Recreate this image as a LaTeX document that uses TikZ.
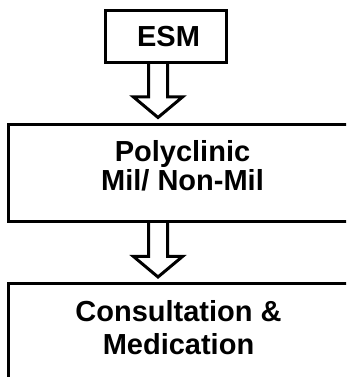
\documentclass[tikz,border=0pt]{standalone}
\usepackage{fontspec}
\setmainfont{Liberation Sans}
\usetikzlibrary{calc}
\begin{document}
\begin{tikzpicture}[x=1pt,y=1pt,
  boxnode/.style={draw=black, line width=3pt, inner sep=0pt},
  txt/.style={font=\bfseries\fontsize{29}{29}\selectfont, align=center, inner sep=0pt},
  blockarrow/.style={draw=black, line width=3pt, line join=miter}]
\useasboundingbox (0,0) rectangle (346,377);
\clip (0,0) rectangle (346,377);
% boxes
\node[boxnode, minimum width=121pt, minimum height=52pt] (esm) at (166,340.5) {};
\node[txt] (esmt) at (168.5,340.5) {ESM};
\node[boxnode, minimum width=354pt, minimum height=97pt] (poly) at (185.5,204) {};
\node[txt] (polyt) at (182.5,211) {Polyclinic\\Mil/ Non-Mil};
\node[boxnode, minimum width=354pt, minimum height=103pt] (cons) at (185.5,41.5) {};
\node[txt, font=\bfseries\fontsize{29}{33}\selectfont] (const) at (178.5,49.5) {Consultation \&\\Medication};
% block arrows
\draw[blockarrow] let \p1=(esm.south), \p2=(poly.north) in
  (148.5pt,\y1) -- (148.5pt,{\y2+26pt}) -- (133.5pt,{\y2+26pt}) -- (158pt,{\y2+5.5pt})
  -- (182.5pt,{\y2+26pt}) -- (167.5pt,{\y2+26pt}) -- (167.5pt,\y1);
\draw[blockarrow] let \p1=(poly.south), \p2=(cons.north) in
  (148.5pt,\y1) -- (148.5pt,{\y2+26pt}) -- (133.5pt,{\y2+26pt}) -- (158pt,{\y2+5.5pt})
  -- (182.5pt,{\y2+26pt}) -- (167.5pt,{\y2+26pt}) -- (167.5pt,\y1);
\end{tikzpicture}
\end{document}
